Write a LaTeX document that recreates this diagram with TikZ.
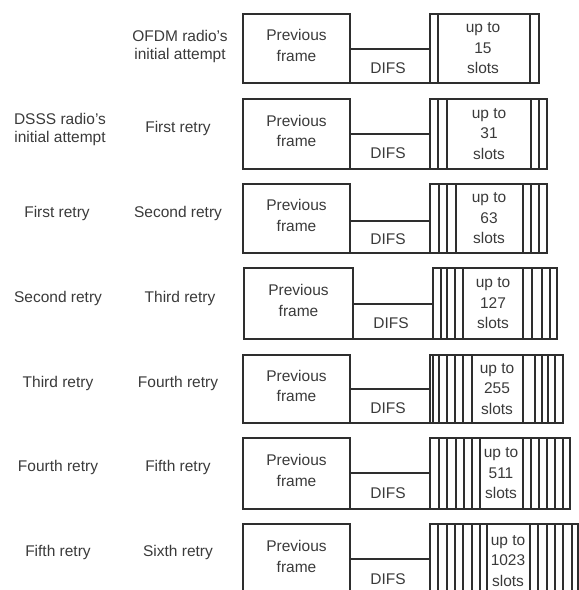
\documentclass[tikz,border=0pt]{standalone}
\usepackage{fontspec}
\setmainfont{Liberation Sans}
\usetikzlibrary{calc,fit}
\definecolor{ink}{HTML}{2E2E2E}
\definecolor{txt}{HTML}{3A3A3A}
\newcommand\slotlines[2]{\foreach \xx in {#2}{\draw[ln] (\xx,0 |- #1.north) -- (\xx,0 |- #1.south);}}
\begin{document}
\begin{tikzpicture}[x=1pt,y=-1pt,
  box/.style={draw=ink, line width=1.2pt, rectangle, inner sep=0pt, outer sep=0pt},
  ln/.style={draw=ink, line width=1.2pt},
  boxtext/.style={text=txt, font=\fontsize{15.5}{20.5}\selectfont, align=center, inner sep=0pt},
  lbl/.style={text=txt, font=\fontsize{15.5}{18}\selectfont, align=center, inner sep=0pt}]
\useasboundingbox (0,0) rectangle (579,590);
\clip (0,0) rectangle (579,590);
% ---------- row 1
\node[box, fit={(243,14) (350,83)}] (p1) {};
\node[box, fit={(350,49) (430,83)}] (d1) {};
\node[box, fit={(430,14) (539,83)}] (s1) {};
\slotlines{s1}{438,530}
\node[boxtext] (p1t) at ($(p1.center)+(0,-3)$) {Previous\\frame};
\node[boxtext] (d1t) at ($(d1.center)+(-2,2)$) {DIFS};
\node[boxtext] (s1t) at (483,0 |- s1.center) {up to\\15\\slots};
\node[lbl] (b1) at (180,46) {OFDM radio's\\initial attempt};
% ---------- row 2
\node[box, fit={(243,99) (350,169)}] (p2) {};
\node[box, fit={(350,134) (430,169)}] (d2) {};
\node[box, fit={(430,99) (547,169)}] (s2) {};
\slotlines{s2}{438,447,531,539}
\node[boxtext] (p2t) at ($(p2.center)+(0,-3)$) {Previous\\frame};
\node[boxtext] (d2t) at ($(d2.center)+(-2,2)$) {DIFS};
\node[boxtext] (s2t) at (489,0 |- s2.center) {up to\\31\\slots};
\node[lbl] (a2) at (60,129) {DSSS radio's\\initial attempt};
\node[lbl] (b2) at (178,128) {First retry};
% ---------- row 3
\node[box, fit={(243,184) (350,253)}] (p3) {};
\node[box, fit={(350,221) (430,253)}] (d3) {};
\node[box, fit={(430,184) (547,253)}] (s3) {};
\slotlines{s3}{439,447,456,523,531,539}
\node[boxtext] (p3t) at ($(p3.center)+(0,-3)$) {Previous\\frame};
\node[boxtext] (d3t) at ($(d3.center)+(-2,2)$) {DIFS};
\node[boxtext] (s3t) at (489,0 |- s3.center) {up to\\63\\slots};
\node[lbl] (a3) at (57,213) {First retry};
\node[lbl] (b3) at (178,213) {Second retry};
% ---------- row 4
\node[box, fit={(244,268) (353,339)}] (p4) {};
\node[box, fit={(353,304) (433,339)}] (d4) {};
\node[box, fit={(433,268) (557,339)}] (s4) {};
\slotlines{s4}{441,447,455,463,523,532,542,550}
\node[boxtext] (p4t) at ($(p4.center)+(0,-3)$) {Previous\\frame};
\node[boxtext] (d4t) at ($(d4.center)+(-2,2)$) {DIFS};
\node[boxtext] (s4t) at (493,0 |- s4.center) {up to\\127\\slots};
\node[lbl] (a4) at (58,298) {Second retry};
\node[lbl] (b4) at (180,298) {Third retry};
% ---------- row 5
\node[box, fit={(243,355) (350,423)}] (p5) {};
\node[box, fit={(350,389) (430,423)}] (d5) {};
\node[box, fit={(430,355) (563,423)}] (s5) {};
\slotlines{s5}{433,439,447,455,463,472,523,535,542,548,555}
\node[boxtext] (p5t) at ($(p5.center)+(0,-3)$) {Previous\\frame};
\node[boxtext] (d5t) at ($(d5.center)+(-2,2)$) {DIFS};
\node[boxtext] (s5t) at (497,0 |- s5.center) {up to\\255\\slots};
\node[lbl] (a5) at (58,383) {Third retry};
\node[lbl] (b5) at (178,383) {Fourth retry};
% ---------- row 6
\node[box, fit={(243,438) (350,509)}] (p6) {};
\node[box, fit={(350,473) (430,509)}] (d6) {};
\node[box, fit={(430,438) (570,509)}] (s6) {};
\slotlines{s6}{439,447,456,464,472,480,523,531,539,547,555,563}
\node[boxtext] (p6t) at ($(p6.center)+(0,-3)$) {Previous\\frame};
\node[boxtext] (d6t) at ($(d6.center)+(-2,2)$) {DIFS};
\node[boxtext] (s6t) at (501,0 |- s6.center) {up to\\511\\slots};
\node[lbl] (a6) at (58,467) {Fourth retry};
\node[lbl] (b6) at (178,467) {Fifth retry};
% ---------- row 7 (cut off by the page edge)
\node[box, fit={(243,524) (350,595)}] (p7) {};
\node[box, fit={(350,559) (430,595)}] (d7) {};
\node[box, fit={(430,524) (600,595)}] (s7) {};
\slotlines{s7}{438,447,455,463,472,480,487,530,538,547,555,563,572,578}
\node[boxtext] (p7t) at (296.5,556.5) {Previous\\frame};
\node[boxtext] (d7t) at (388,579) {DIFS};
\node[boxtext] (s7t) at (508,561) {up to\\1023\\slots};
\node[lbl] (a7) at (58,552) {Fifth retry};
\node[lbl] (b7) at (178,552) {Sixth retry};
\end{tikzpicture}
\end{document}
